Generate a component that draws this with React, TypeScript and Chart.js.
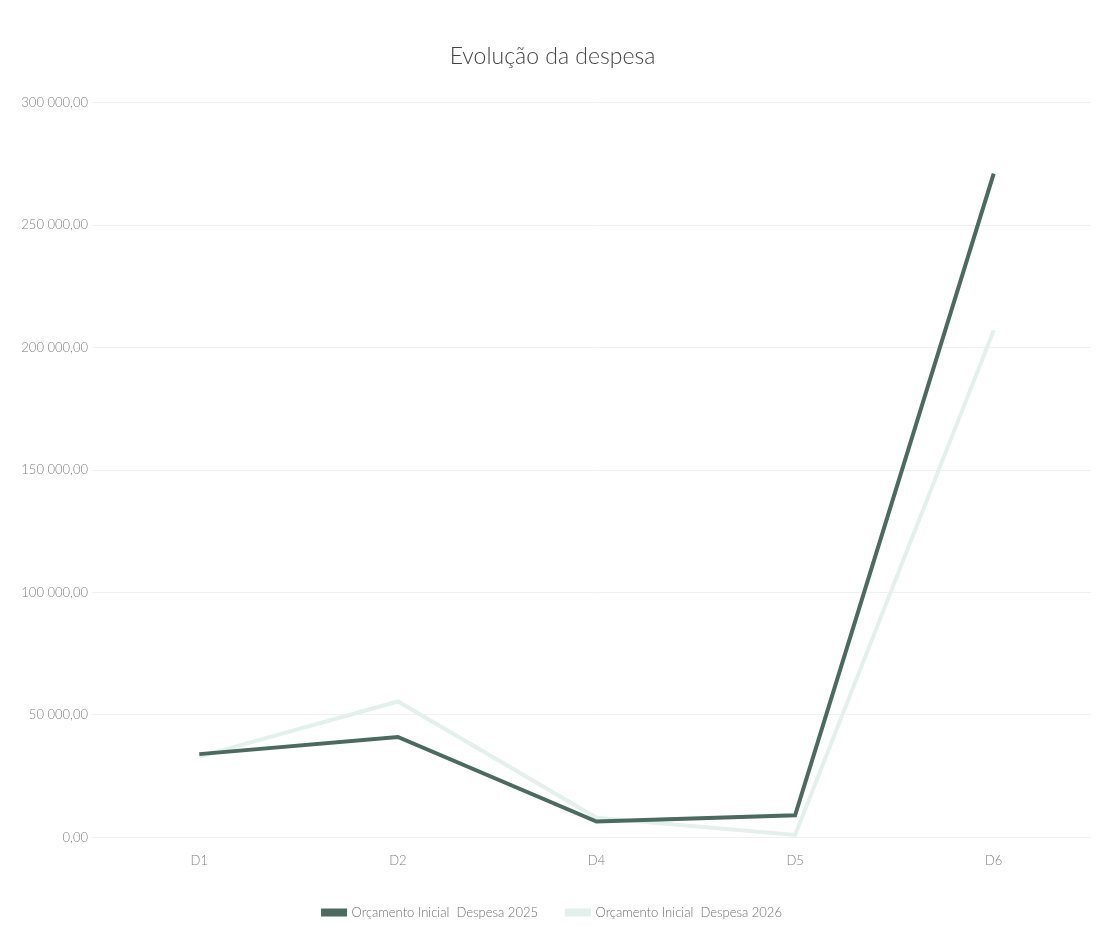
import React, { useEffect, useRef } from "react";
import { Chart, registerables } from "chart.js";

Chart.register(...registerables);

const titleText = "Evolução da despesa";
const categories = ["D1", "D2", "D4", "D5", "D6"];
const series2025Label = "Orçamento Inicial  Despesa 2025";
const series2026Label = "Orçamento Inicial  Despesa 2026";
const series2025 = [34000, 41000, 6500, 9000, 271000];
const series2026 = [33000, 55500, 8000, 1000, 207000];
const yMin = 0;
const yMax = 300000;
const yStep = 50000;

const color2025 = "#4b6a60";
const color2026 = "#e3f0ed";
const fontFamily = "Lato, 'Open Sans', sans-serif";

function formatPt(v: number): string {
  const fixed = Math.abs(v).toFixed(2);
  const [intPart, dec] = fixed.split(".");
  const withSpaces = intPart.replace(/\B(?=(\d{3})+(?!\d))/g, " ");
  return (v < 0 ? "-" : "") + withSpaces + "," + dec;
}

export default function App() {
  const canvasRef = useRef<HTMLCanvasElement | null>(null);

  useEffect(() => {
    if (!canvasRef.current) return;
    const chart = new Chart(canvasRef.current, {
      type: "line",
      data: {
        labels: categories,
        datasets: [
          {
            label: series2025Label,
            data: series2025,
            borderColor: color2025,
            backgroundColor: color2025,
            borderWidth: 4,
            pointRadius: 0,
            tension: 0,
          },
          {
            label: series2026Label,
            data: series2026,
            borderColor: color2026,
            backgroundColor: color2026,
            borderWidth: 4,
            pointRadius: 0,
            tension: 0,
          },
        ],
      },
      options: {
        animation: false,
        responsive: true,
        maintainAspectRatio: false,
        layout: { padding: { left: 4, right: 6, top: 35, bottom: 7 } },
        plugins: {
          title: {
            display: true,
            text: titleText,
            color: "#444444",
            font: { family: fontFamily, size: 23, weight: "300" as any },
            padding: { top: 0, bottom: 32 },
          },
          legend: {
            position: "bottom",
            labels: {
              color: "#707070",
              font: { family: fontFamily, size: 13, weight: "300" as any },
              boxWidth: 22,
              boxHeight: 4,
              padding: 29,
            },
          },
          tooltip: { enabled: false },
        },
        scales: {
          x: {
            offset: true,
            grid: { display: false },
            border: { display: false },
            ticks: {
              color: "#808080",
              font: { family: fontFamily, size: 13, weight: "300" as any },
              padding: 8,
            },
          },
          y: {
            min: yMin,
            max: yMax,
            grid: { color: "#f0f0f0", lineWidth: 1 },
            border: { display: false },
            ticks: {
              stepSize: yStep,
              color: "#808080",
              font: { family: fontFamily, size: 13, weight: "300" as any },
              padding: 4,
              callback: (v: any) => formatPt(Number(v)),
            },
            afterFit: (scale: any) => {
              scale.width = 88;
            },
          },
        },
      },
    });
    return () => chart.destroy();
  }, []);

  return (
    <div style={{ width: 1091, height: 928, position: "relative" }}>
      <canvas ref={canvasRef} />
    </div>
  );
}
